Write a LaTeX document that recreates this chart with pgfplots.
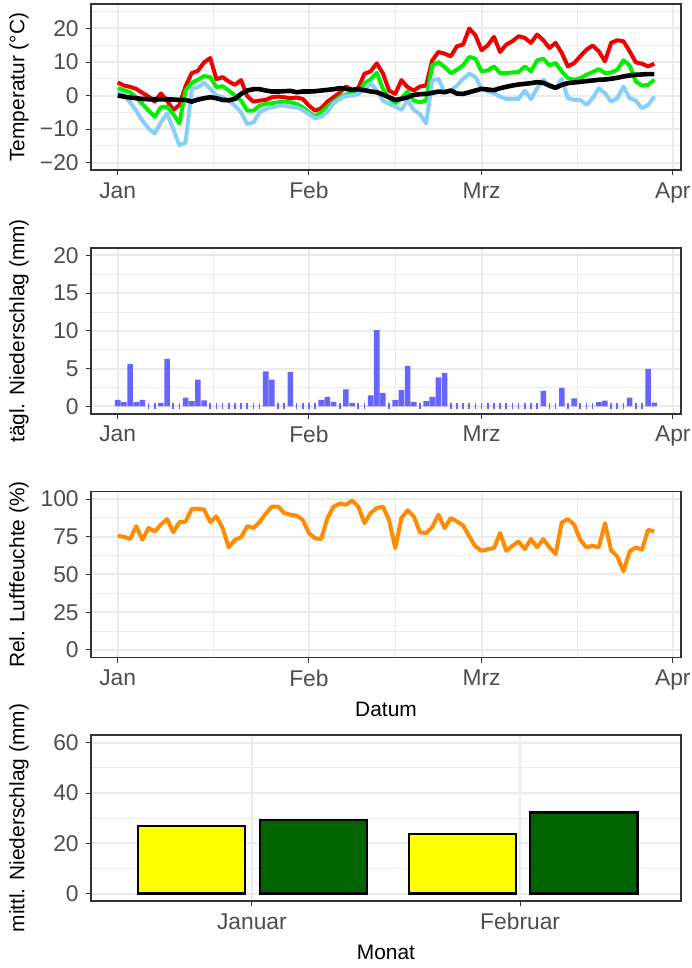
\documentclass[border=0pt]{standalone}
\usepackage{fontspec}
\setmainfont{Liberation Sans}
\usepackage{pgfplots}
\usepackage{pgfplotstable}
\pgfplotsset{compat=1.18}

\definecolor{gridc}{HTML}{EBEBEB}
\definecolor{framec}{HTML}{333333}
\definecolor{tickc}{HTML}{4D4D4D}
\definecolor{tmaxc}{HTML}{EE0000}
\definecolor{tmeanc}{HTML}{00F000}
\definecolor{tminc}{HTML}{87CEFA}
\definecolor{rainc}{RGB}{102,102,255}
\definecolor{rhc}{HTML}{FF8C00}
\definecolor{janc}{HTML}{FFFF00}
\definecolor{febc}{HTML}{006400}

\pgfplotstableread{
d tmax tmean tmin tblk rain rh
0 3.9 2.2 1.2 0.0 0.85 75.7
1 3.0 1.6 0.2 -0.3 0.55 75.0
2 2.6 1.0 -2.0 -0.6 5.6 73.5
3 2.0 -0.5 -4.5 -0.8 0.55 82.0
4 0.8 -2.5 -7.5 -1.0 0.85 73.0
5 -0.3 -4.5 -9.8 -1.1 0 80.8
6 -1.8 -6.3 -11.3 -1.1 0 78.5
7 0.6 -3.5 -8.0 -1.1 0.45 83.0
8 -1.5 -3.3 -5.3 -1.1 6.3 86.7
9 -4.3 -5.5 -10.0 -1.2 0 78.0
10 -2.8 -8.3 -14.8 -1.3 0 84.7
11 2.8 1.5 -14.0 -1.3 1.15 85.0
12 6.7 3.8 2.0 -1.8 0.7 93.4
13 7.4 4.7 2.5 -1.2 3.55 93.6
14 9.9 5.8 3.8 -0.8 0.8 93.0
15 11.2 5.5 2.0 -0.5 0 84.7
16 4.9 2.5 0.0 -0.8 0 88.5
17 5.5 2.8 -0.5 -1.3 0 80.8
18 4.2 1.5 -1.5 -1.4 0 68.0
19 3.2 0.0 -3.0 -1.0 0 73.0
20 4.6 -1.5 -5.0 0.5 0 74.6
21 -0.2 -4.5 -8.5 1.5 0 82.0
22 -1.8 -4.5 -8.0 1.9 0 80.8
23 -1.5 -3.0 -5.0 1.9 0 84.7
24 -1.3 -2.5 -4.0 1.5 4.65 90.3
25 -0.5 -2.3 -3.5 1.2 3.55 95.0
26 -0.3 -2.0 -3.0 1.2 0 95.0
27 -0.5 -1.8 -3.0 1.3 0 90.7
28 -0.8 -2.0 -3.3 1.4 4.55 89.6
29 -0.6 -2.5 -3.5 1.0 0 89.0
30 -1.0 -3.5 -4.3 1.2 0 86.3
31 -3.0 -5.0 -5.5 1.2 0 77.4
32 -4.5 -6.2 -6.8 1.3 0 74.0
33 -3.8 -5.0 -6.3 1.5 0.85 73.5
34 -1.8 -3.3 -4.8 1.7 1.25 87.4
35 -0.5 -1.8 -2.3 1.9 0.6 95.0
36 0.9 -0.5 -1.0 2.2 0 97.0
37 2.7 0.3 -0.1 2.0 2.25 96.2
38 1.6 0.8 0.0 1.7 0.45 99.0
39 2.2 0.5 0.5 1.9 0 95.0
40 6.5 3.7 1.7 1.6 0 84.0
41 7.2 4.8 3.7 1.2 1.45 90.7
42 9.6 6.8 1.5 1.0 10.1 94.0
43 6.6 2.0 -1.5 0.3 1.75 95.0
44 1.5 -0.8 -2.5 -0.5 0 86.0
45 0.5 -2.3 -3.3 -1.3 0.85 67.5
46 4.6 -0.8 -4.3 -1.0 2.15 87.4
47 2.5 1.2 -1.3 -0.5 5.35 92.5
48 1.5 -1.5 -4.3 0.2 0.6 88.5
49 2.7 -2.0 -5.5 0.4 0 78.0
50 3.0 -1.5 -8.3 0.5 0.7 77.4
51 10.5 9.0 4.5 0.8 1.25 81.4
52 13.0 10.0 5.0 1.2 3.85 89.6
53 12.5 8.5 1.0 1.0 4.45 80.8
54 11.7 6.7 1.5 1.5 0 87.4
55 14.7 7.7 3.0 0.6 0 85.2
56 15.2 9.0 5.0 0.5 0 82.5
57 20.0 11.5 6.5 1.0 0 75.2
58 18.0 11.0 5.5 1.5 0 68.6
59 13.5 7.2 2.0 2.0 0 65.7
60 15.0 7.5 1.2 1.8 0 66.8
61 17.5 8.7 0.7 1.6 0 67.5
62 13.0 6.7 -0.3 2.2 0 77.4
63 15.2 6.7 -1.0 2.6 0 65.7
64 16.2 6.9 -1.0 3.0 0 69.0
65 17.7 7.0 -1.0 3.3 0 71.9
66 17.2 8.7 1.5 3.5 0 66.8
67 15.7 7.2 -1.1 3.7 0 73.5
68 18.2 10.5 2.2 4.0 0 68.0
69 16.5 11.0 4.7 3.8 2.05 73.5
70 14.2 9.0 2.7 3.0 0 68.0
71 15.7 9.7 2.2 2.3 0 63.5
72 12.7 7.2 4.9 3.2 2.45 84.5
73 8.7 5.2 -0.8 3.7 0 86.7
74 9.7 4.7 -1.3 3.9 1.05 83.0
75 11.7 5.2 -1.3 4.1 0 73.0
76 13.7 6.2 -2.8 4.3 0 68.0
77 14.9 7.0 -0.8 4.5 0 69.0
78 13.2 7.9 2.2 4.7 0.55 68.0
79 10.2 6.7 0.7 4.8 0.75 84.0
80 15.7 6.9 -1.8 5.0 0 66.0
81 16.5 7.7 -0.8 5.3 0 62.0
82 16.2 10.5 2.7 5.7 0 52.0
83 13.2 9.0 -0.8 6.0 1.15 65.3
84 9.9 4.2 -1.5 6.2 0 68.0
85 9.5 3.0 -3.8 6.3 0 66.4
86 8.7 3.2 -2.8 6.4 4.95 79.6
87 9.5 4.7 -0.3 6.4 0.5 78.5
}\wetter

\pgfplotsset{
  panel/.style={
    scale only axis, width=295.1pt, height=83pt,
    axis line style={framec, line width=0.75pt},
    tick align=outside, major tick length=2.6pt, minor tick length=0pt,
    tick style={framec, line width=0.5pt},
    xtick pos=lower, ytick pos=left,
    grid=both,
    major grid style={gridc, line width=1pt},
    minor grid style={gridc, line width=0.5pt},
    ticklabel style={font=\fontsize{11.4}{13}\selectfont, text=tickc},
    every axis y label/.style={at={(axis description cs:-0.1218,0.5)}, rotate=90, anchor=center, font=\fontsize{10.45}{12.5}\selectfont},
    every axis x label/.style={at={(axis description cs:0.5,-0.311)}, anchor=center, font=\fontsize{10.45}{12.5}\selectfont},
  },
  datex/.style={
    xmin=-4.35, xmax=91.35,
    xtick={0,31,59,90}, xticklabels={Jan,Feb,Mrz,Apr},
    minor xtick={15.5,45,74.5},
  },
}

\begin{document}
\begin{tikzpicture}
\useasboundingbox (0,0) rectangle (345.5pt,484pt);

% Panel 1: temperature
\begin{axis}[panel, datex, at={(45.45pt,398.9pt)}, anchor=south west,
  ymin=-22.25, ymax=27.25,
  ytick={-20,-10,0,10,20}, yticklabels={−20,−10,0,10,20},
  minor ytick={-15,-5,5,15,25},
  ylabel={Temperatur (°C)}]
\addplot[tmaxc, line width=2pt, line join=round] table[x=d, y=tmax] {\wetter};
\addplot[tmeanc, line width=2pt, line join=round] table[x=d, y=tmean] {\wetter};
\addplot[tminc, line width=2pt, line join=round] table[x=d, y=tmin] {\wetter};
\addplot[black, line width=2.3pt, line join=round] table[x=d, y=tblk] {\wetter};
\end{axis}

% Panel 2: daily precipitation
\begin{axis}[panel, datex, at={(45.45pt,277.05pt)}, anchor=south west,
  ymin=-1, ymax=21,
  ytick={0,5,10,15,20}, yticklabels={0,5,10,15,20},
  minor ytick={2.5,7.5,12.5,17.5},
  ylabel={tägl. Niederschlag (mm)}]
\addplot[ybar, bar width=0.9, fill=rainc, draw=none] table[x=d, y=rain] {\wetter};
\addplot[only marks, mark=|, mark size=1.3pt, color=rainc, mark options={line width=0.8pt}] coordinates {
(5,0.05) (6,0.05) (9,0.05) (10,0.05) (15,0.05) (16,0.05) (17,0.05) (18,0.05) (19,0.05)
(20,0.05) (21,0.05) (22,0.05) (23,0.05) (26,0.05) (27,0.05) (29,0.05) (30,0.05) (31,0.05)
(32,0.05) (36,0.05) (39,0.05) (40,0.05) (44,0.05) (49,0.05) (54,0.05) (55,0.05) (56,0.05)
(57,0.05) (58,0.05) (59,0.05) (60,0.05) (61,0.05) (62,0.05) (63,0.05) (64,0.05) (65,0.05)
(66,0.05) (67,0.05) (68,0.05) (70,0.05) (71,0.05) (73,0.05) (75,0.05) (76,0.05) (77,0.05)
(80,0.05) (81,0.05) (82,0.05) (84,0.05) (85,0.05)};
\end{axis}

% Panel 3: relative humidity
\begin{axis}[panel, datex, at={(45.45pt,155.25pt)}, anchor=south west,
  ymin=-5, ymax=105,
  ytick={0,25,50,75,100}, yticklabels={0,25,50,75,100},
  minor ytick={12.5,37.5,62.5,87.5},
  ylabel={Rel. Luftfeuchte (\%)}, xlabel={Datum}]
\addplot[rhc, line width=2pt, line join=round] table[x=d, y=rh] {\wetter};
\end{axis}

% Panel 4: monthly precipitation
\begin{axis}[panel, at={(45.45pt,33.4pt)}, anchor=south west,
  xmin=0.4, xmax=2.6, xtick={1,2}, xticklabels={Januar,Februar},
  ymin=-3, ymax=63,
  ytick={0,20,40,60}, yticklabels={0,20,40,60},
  minor ytick={10,30,50},
  ylabel={mittl. Niederschlag (mm)}, xlabel={Monat},
  every axis x label/.style={at={(axis description cs:0.5,-0.307)}, anchor=center, font=\fontsize{10.45}{12.5}\selectfont}]
\addplot[ybar, bar width=0.40, fill=janc, draw=black, line width=1.2pt] coordinates {(0.775,27.0) (1.785,23.8)};
\addplot[ybar, bar width=0.40, fill=febc, draw=black, line width=1.2pt] coordinates {(1.23,29.3) (2.237,32.2)};
\end{axis}
\end{tikzpicture}
\end{document}
